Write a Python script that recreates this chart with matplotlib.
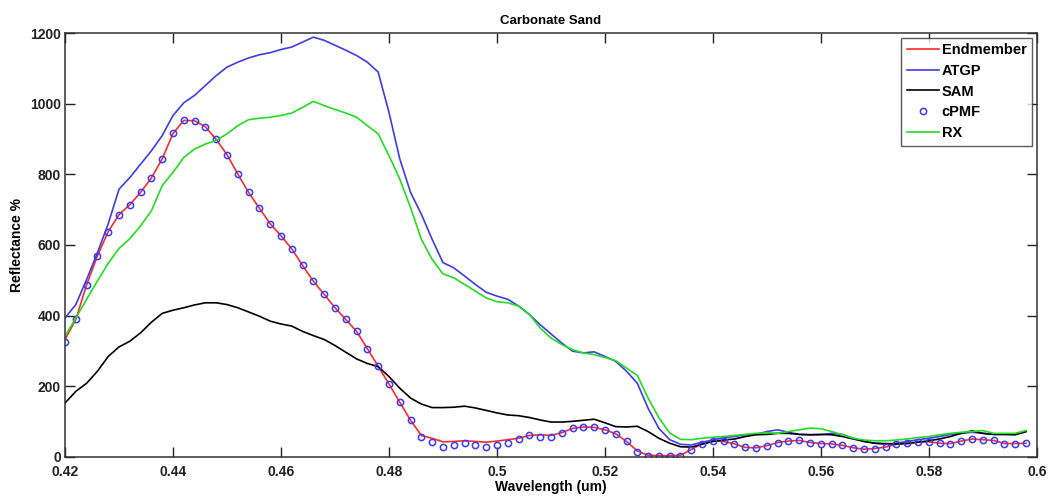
import matplotlib
matplotlib.use('Agg')
import matplotlib.pyplot as plt
import numpy as np

plt.rcParams['font.family'] = ['Liberation Sans', 'DejaVu Sans']
plt.rcParams['font.weight'] = 'bold'

# wavelength grid (um), one band every 2 nm
wl = np.linspace(0.42, 0.598, 90)

endmember = [332, 389, 487, 569, 638, 686, 714, 749, 790, 844, 916, 953, 952, 935, 899, 856, 801, 749, 704,
             660, 626, 589, 542, 497, 460, 422, 389, 355, 306, 256, 206, 154, 103, 60, 52, 42,
             43, 45, 43, 41, 44, 48, 52, 60, 62, 60, 68, 80, 84, 83, 76, 65, 43, 16,
             4, 3, 3, 4, 20, 37, 44, 43, 36, 26, 25, 31, 40, 44, 46, 40, 37, 36,
             32, 25, 21, 23, 27, 35, 38, 41, 42, 38, 37, 44, 50, 48, 46, 37, 37, 38]

atgp = [393, 431, 502, 578, 660, 758, 791, 829, 867, 910, 967, 1003, 1024, 1052, 1080, 1104, 1118, 1130, 1139,
        1145, 1154, 1161, 1175, 1189, 1180, 1166, 1152, 1137, 1118, 1090, 976, 844, 749, 687, 616, 550,
        535, 512, 488, 466, 455, 446, 427, 403, 374, 348, 322, 299, 294, 297, 284, 270, 242, 208,
        137, 80, 48, 35, 33, 41, 47, 54, 57, 62, 63, 71, 76, 69, 63, 62, 62, 66,
        63, 52, 43, 38, 35, 38, 43, 48, 52, 57, 63, 66, 69, 66, 63, 63, 63, 71]

sam = [152, 185, 208, 242, 284, 311, 327, 351, 381, 406, 415, 422, 430, 436, 436, 431, 422, 410, 398,
       384, 376, 370, 355, 343, 332, 315, 296, 277, 264, 255, 227, 194, 166, 149, 139, 139,
       140, 143, 138, 131, 124, 118, 116, 111, 104, 98, 98, 100, 103, 106, 96, 85, 84, 86,
       71, 52, 38, 28, 27, 35, 43, 47, 50, 57, 62, 63, 66, 66, 63, 62, 63, 62,
       57, 50, 43, 38, 37, 36, 37, 41, 45, 50, 57, 66, 73, 66, 63, 63, 62, 71]

cpmf = [324, 389, 487, 569, 638, 686, 714, 749, 790, 844, 916, 953, 952, 935, 899, 856, 801, 749, 704,
        660, 626, 589, 542, 497, 460, 422, 389, 355, 306, 256, 206, 154, 103, 55, 41, 28,
        33, 40, 33, 28, 33, 38, 49, 60, 57, 55, 68, 80, 84, 83, 76, 65, 43, 14,
        2, 1, 1, 2, 20, 37, 44, 43, 36, 26, 25, 31, 40, 44, 46, 40, 37, 36,
        32, 25, 21, 23, 27, 35, 38, 41, 42, 38, 37, 44, 50, 48, 46, 37, 37, 38]

rx = [341, 393, 446, 498, 548, 590, 618, 654, 697, 768, 806, 848, 872, 886, 896, 915, 938, 955, 959,
      962, 967, 974, 990, 1007, 995, 984, 974, 962, 938, 915, 853, 787, 706, 616, 559, 518,
      507, 488, 469, 450, 439, 436, 427, 403, 365, 336, 318, 303, 294, 289, 281, 272, 251, 230,
      166, 110, 67, 49, 48, 52, 55, 57, 60, 63, 66, 68, 66, 71, 76, 81, 79, 71,
      62, 52, 47, 45, 45, 47, 50, 54, 57, 62, 66, 69, 71, 74, 66, 66, 66, 74]

fig = plt.figure(figsize=(10.54, 5.04), dpi=100)
ax = fig.add_axes([0.0617, 0.094, 0.922, 0.84])

ax.plot(wl, endmember, color='#ff2a2a', lw=1.2, label='Endmember')
ax.plot(wl, atgp, color='#3d3de6', lw=1.2, label='ATGP')
ax.plot(wl, sam, color='black', lw=1.2, label='SAM')
ax.plot(wl, cpmf, 'o', mfc='none', mec='#3a3aff', ms=4.5, mew=1.1, label='cPMF')
ax.plot(wl, rx, color='#22dd22', lw=1.2, label='RX')

ax.set_xlim(0.42, 0.6)
ax.set_ylim(0, 1200)
ax.set_xticks([0.42, 0.44, 0.46, 0.48, 0.5, 0.52, 0.54, 0.56, 0.58, 0.6])
ax.set_xticklabels(['0.42', '0.44', '0.46', '0.48', '0.5', '0.52', '0.54', '0.56', '0.58', '0.6'])
ax.set_yticks(np.arange(0, 1201, 200))

ax.tick_params(direction='in', length=7, width=1, top=True, right=True, labelsize=10, colors='#222222')
ax.tick_params(axis='x', pad=6)
ax.tick_params(axis='y', pad=3)
for s in ax.spines.values():
    s.set_linewidth(1.1)
    s.set_color('#333333')

ax.set_title('Carbonate Sand', fontsize=9.5, fontweight='bold', pad=7)
ax.set_xlabel('Wavelength (um)', fontsize=10, fontweight='bold', labelpad=1)
ax.set_ylabel('Reflectance %', fontsize=10, fontweight='bold', labelpad=4)

leg = ax.legend(loc='upper right', fontsize=10.5, frameon=True, fancybox=False,
                edgecolor='#333333', handlelength=2.2, handletextpad=0.2,
                labelspacing=0.45, borderpad=0.4, borderaxespad=0.3)
leg.get_frame().set_linewidth(1.0)

fig.savefig('out.png', dpi=100)
